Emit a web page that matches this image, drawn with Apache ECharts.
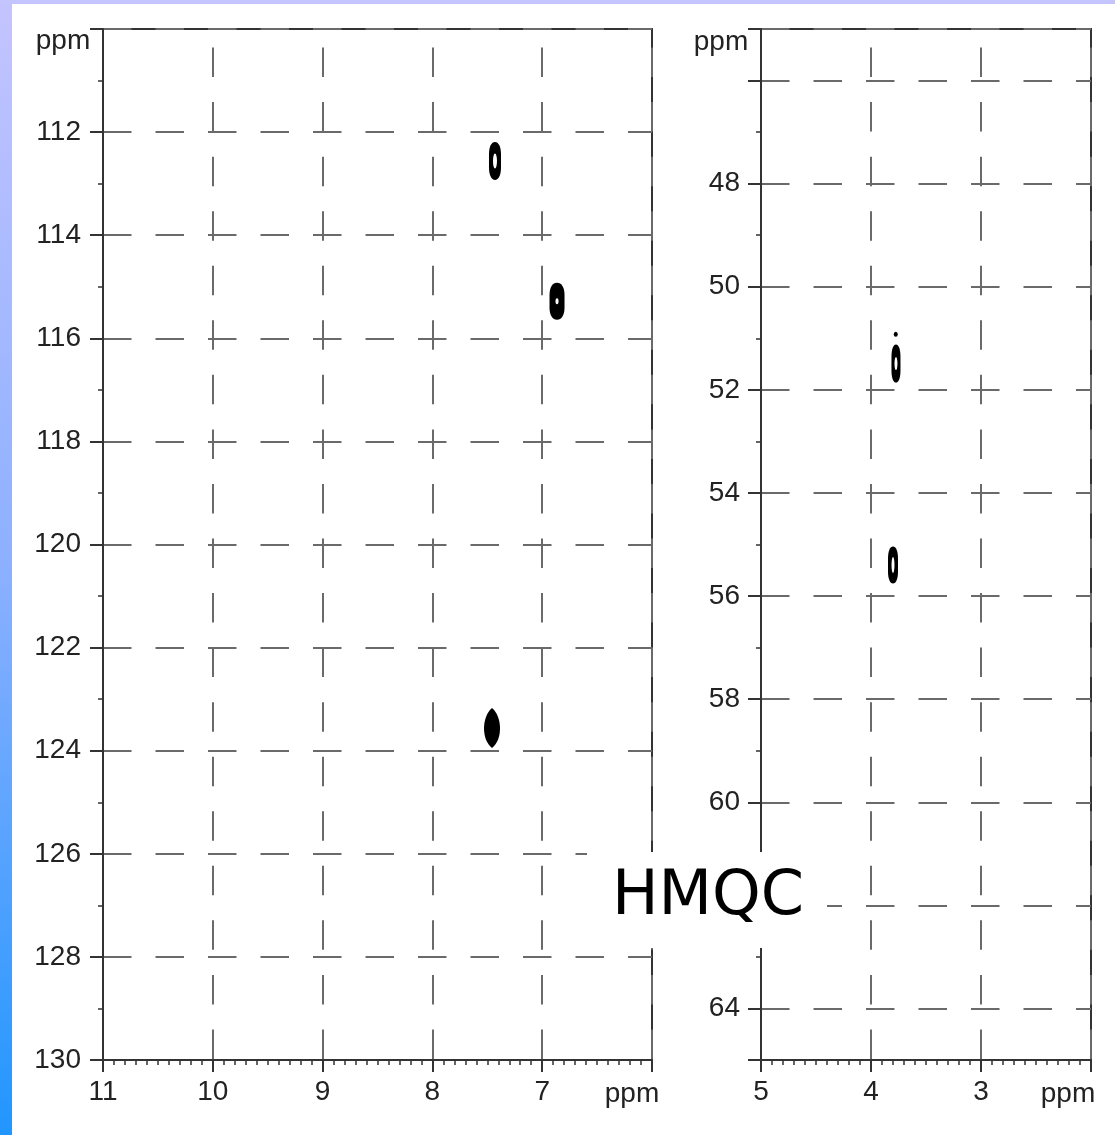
<!DOCTYPE html>
<html><head><meta charset="utf-8">
<script src="https://cdn.jsdelivr.net/npm/echarts@6/dist/echarts.min.js"></script>
<style>html,body{margin:0;padding:0;background:#fff}#c{width:1115px;height:1135px}</style>
</head><body><div id="c"></div>
<script>
// ---- data ----
const leftXRange = [6, 11];      // 1H ppm (aromatic)
const leftYRange = [110, 130];   // 13C ppm (aromatic)
const rightXRange = [2, 5];      // 1H ppm (aliphatic)
const rightYRange = [45, 65];    // 13C ppm (aliphatic)
const leftPeaks = [[7.43, 112.56], [6.865, 115.28], [7.457, 123.56]];
const rightPeaks = [[3.773, 51.49], [3.80, 55.40], [3.775, 50.92]];
const axisUnit = 'ppm';
const titleText = 'HMQC';

// ---- styles ----
const FONT = 'Liberation Sans';
const AX = '#333';
const GRIDC = '#6a6a6a';
const CAPSULE = 'path://M0,-1 C0.6,-1 1,-0.75 1,-0.35 L1,0.35 C1,0.75 0.6,1 0,1 C-0.6,1 -1,0.75 -1,0.35 L-1,-0.35 C-1,-0.75 -0.6,-1 0,-1 Z';
const LENS = 'path://M0,-1 C0.95,-0.55 0.95,0.6 0,1 C-0.95,0.6 -0.95,-0.55 0,-1 Z';
const leftPeakSize = [[12, 38], [15, 37], [16, 40]];
const leftPeakShape = [CAPSULE, CAPSULE, LENS];
const leftHoleSize = [[4, 15], [3, 6], [0, 0]];
const rightPeakSize = [[9, 38], [10, 37], [4, 5]];
const rightPeakShape = [CAPSULE, CAPSULE, 'circle'];
const rightHoleSize = [[3, 13], [3, 16], [0, 0]];

function xAxisCfg(gi, range, hide) {
  return {
    type: 'value', gridIndex: gi, min: range[0], max: range[1], interval: 1, inverse: true,
    axisLine: {show: true, onZero: false, lineStyle: {color: AX, width: 2}},
    axisTick: {show: true, length: 12, lineStyle: {color: AX, width: 2}},
    minorTick: {show: true, splitNumber: 10, length: 5, lineStyle: {color: AX, width: 1.5}},
    axisLabel: {margin: 18, fontFamily: FONT, fontSize: 28, color: '#222',
      formatter: v => (v === hide ? '' : String(v))},
    splitLine: {show: true, lineStyle: {color: GRIDC, width: 2, type: [29.5, 25.05], dashOffset: 36}}
  };
}
function yAxisCfg(gi, range, hideList, useInterval, margin) {
  const cfg = {
    type: 'value', gridIndex: gi, min: range[0], max: range[1], inverse: true,
    axisLine: {show: true, onZero: false, lineStyle: {color: AX, width: 2}},
    axisTick: {show: true, length: 13, lineStyle: {color: AX, width: 2}},
    minorTick: {show: true, splitNumber: 2, length: 5, lineStyle: {color: AX, width: 1.5}},
    axisLabel: {margin: margin, fontFamily: FONT, fontSize: 28, color: '#222',
      formatter: v => (hideList.indexOf(v) >= 0 ? '' : String(v))},
    splitLine: {show: true, lineStyle: {color: GRIDC, width: 2, type: [28.5, 24], dashOffset: 0}}
  };
  if (useInterval) cfg.interval = 2; else cfg.splitNumber = 10;
  return cfg;
}
function peakData(peaks, sizes, shapes) {
  return peaks.map((p, i) => ({value: p, symbolSize: sizes[i], symbol: shapes ? shapes[i] : 'circle'}));
}
function txt(x, y, s, size, fam, align) {
  return {type: 'text', x: x, y: y, z: 100, silent: true,
    style: {text: s, fontFamily: fam || FONT, fontSize: size || 28, fill: '#222',
      align: align || 'center', verticalAlign: 'middle'}};
}

const chart = echarts.init(document.getElementById('c'), null, {renderer: 'canvas'});
chart.setOption({
  animation: false,
  backgroundColor: '#fff',
  grid: [
    {left: 103, top: 29, width: 549, height: 1031, show: true, borderColor: AX, borderWidth: 2, backgroundColor: 'transparent'},
    {left: 761, top: 29, width: 330, height: 1031, show: true, borderColor: AX, borderWidth: 2, backgroundColor: 'transparent'}
  ],
  xAxis: [xAxisCfg(0, leftXRange, 6), xAxisCfg(1, rightXRange, 2)],
  yAxis: [yAxisCfg(0, leftYRange, [110], true, 22), yAxisCfg(1, rightYRange, [45, 46, 65], false, 21)],
  series: [
    {type: 'scatter', xAxisIndex: 0, yAxisIndex: 0, z: 5, silent: true,
      itemStyle: {color: '#000', opacity: 1}, data: peakData(leftPeaks, leftPeakSize, leftPeakShape)},
    {type: 'scatter', xAxisIndex: 0, yAxisIndex: 0, z: 6, silent: true,
      itemStyle: {color: '#fff', opacity: 1}, data: peakData(leftPeaks, leftHoleSize)},
    {type: 'scatter', xAxisIndex: 1, yAxisIndex: 1, z: 5, silent: true,
      itemStyle: {color: '#000', opacity: 1}, data: peakData(rightPeaks, rightPeakSize, rightPeakShape)},
    {type: 'scatter', xAxisIndex: 1, yAxisIndex: 1, z: 6, silent: true,
      itemStyle: {color: '#fff', opacity: 1}, data: peakData(rightPeaks, rightHoleSize)}
  ],
  graphic: [
    {type: 'rect', z: -10, silent: true, shape: {x: 0, y: 0, width: 1115, height: 4}, style: {fill: '#c4c4ff'}},
    {type: 'rect', z: -10, silent: true, shape: {x: 0, y: 0, width: 12, height: 1135},
      style: {fill: new echarts.graphic.LinearGradient(0, 0, 0, 1, [
        {offset: 0, color: '#c4c4ff'}, {offset: 0.5, color: '#8cb0ff'}, {offset: 1, color: '#2196ff'}])}},
    txt(63, 41, axisUnit), txt(721, 42, axisUnit),
    txt(632, 1094, axisUnit), txt(1068, 1094, axisUnit),
    {type: 'rect', z: 90, silent: true, shape: {x: 587, y: 852, width: 240, height: 96}, style: {fill: '#fff'}},
    {type: 'text', z: 100, silent: true, x: 708, y: 898,
      style: {text: titleText, fontFamily: '"Comic Sans MS", "DejaVu Sans"', fontSize: 62, fill: '#000', align: 'center', verticalAlign: 'middle'}}
  ]
});
</script></body></html>
